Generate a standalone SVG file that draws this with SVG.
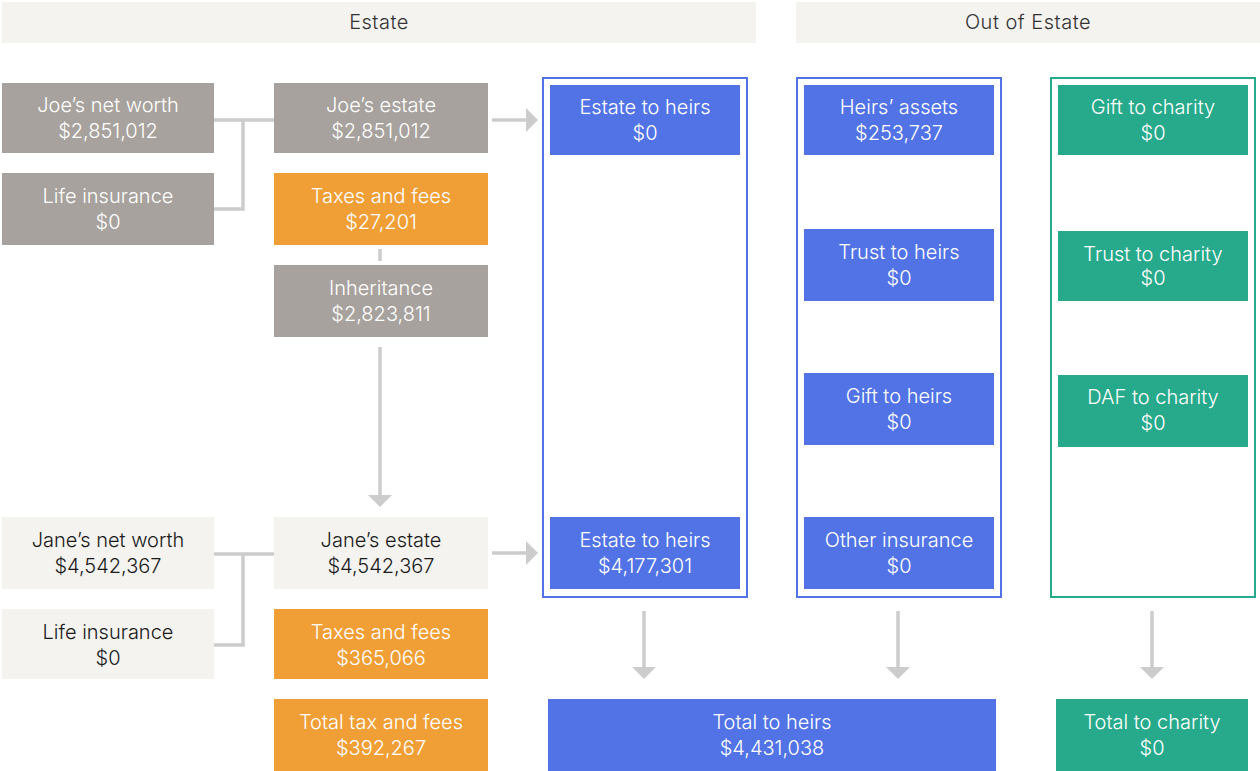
<svg xmlns="http://www.w3.org/2000/svg" width="1260" height="771" viewBox="0 0 1260 771">
<defs>
<style>
.hdr{fill:#f4f3f0}
.ht{font-family:Inter,"Noto Sans",sans-serif;font-size:20px;font-weight:300;letter-spacing:0.5px;fill:#333;text-anchor:middle}
.t{font-family:Inter,"Noto Sans",sans-serif;font-size:20px;font-weight:300;text-anchor:middle;fill:#fff}
.d{fill:#1a1a1a}
.gray{fill:#a7a29d}
.light{fill:#f4f3f0}
.orange{fill:#f09e36}
.blue{fill:#5173e6}
.green{fill:#27a98b}
.ob{fill:none;stroke:#5173e6;stroke-width:2}
.og{fill:none;stroke:#27a98b;stroke-width:2}
.c{fill:none;stroke:#cccccc;stroke-width:3.5}
</style>
<marker id="ah" markerUnits="userSpaceOnUse" markerWidth="12" markerHeight="24" refX="0" refY="12" orient="auto" viewBox="0 0 12 24">
<path d="M0,0 L12,12 L0,24 Z" fill="#cccccc"/>
</marker>
</defs>
<rect width="1260" height="771" fill="#fff"/>
<g id="header-estate"><rect class="hdr" x="2" y="2" width="754" height="41"/><text class="ht" x="379" y="29">Estate</text></g>
<g id="header-out"><rect class="hdr" x="796" y="2" width="464" height="41"/><text class="ht" x="1028" y="29">Out of Estate</text></g>
<g id="col-estate-heirs"><rect class="ob" x="543" y="78" width="204" height="519"/></g>
<g id="col-out-heirs"><rect class="ob" x="797" y="78" width="204" height="519"/></g>
<g id="col-charity"><rect class="og" x="1051" y="78" width="204" height="519"/></g>
<g id="connectors">
<path class="c" d="M214,120 H274 M243,120 V209 H214"/>
<path class="c" d="M492,120 H526" marker-end="url(#ah)"/>
<path class="c" d="M380,249 V261"/>
<path class="c" d="M380,347 V495" marker-end="url(#ah)"/>
<path class="c" d="M214,554 H274 M243,554 V645 H214"/>
<path class="c" d="M492,553 H526" marker-end="url(#ah)"/>
<path class="c" d="M644,611 V667" marker-end="url(#ah)"/>
<path class="c" d="M898,611 V667" marker-end="url(#ah)"/>
<path class="c" d="M1152,611 V667" marker-end="url(#ah)"/>
</g>
<g id="joe-net-worth"><rect class="gray" x="2" y="83" width="212" height="70"/><text class="t" x="108" y="112">Joe’s net worth</text><text class="t" x="108" y="138">$2,851,012</text></g>
<g id="joe-life-insurance"><rect class="gray" x="2" y="173" width="212" height="72"/><text class="t" x="108" y="203">Life insurance</text><text class="t" x="108" y="229">$0</text></g>
<g id="joe-estate"><rect class="gray" x="274" y="83" width="214" height="70"/><text class="t" x="381" y="112">Joe’s estate</text><text class="t" x="381" y="138">$2,851,012</text></g>
<g id="joe-taxes"><rect class="orange" x="274" y="173" width="214" height="72"/><text class="t" x="381" y="203">Taxes and fees</text><text class="t" x="381" y="229">$27,201</text></g>
<g id="inheritance"><rect class="gray" x="274" y="265" width="214" height="72"/><text class="t" x="381" y="295">Inheritance</text><text class="t" x="381" y="321">$2,823,811</text></g>
<g id="jane-net-worth"><rect class="light" x="2" y="517" width="212" height="72"/><text class="t d" x="108" y="547">Jane’s net worth</text><text class="t d" x="108" y="573">$4,542,367</text></g>
<g id="jane-life-insurance"><rect class="light" x="2" y="609" width="212" height="70"/><text class="t d" x="108" y="639">Life insurance</text><text class="t d" x="108" y="665">$0</text></g>
<g id="jane-estate"><rect class="light" x="274" y="517" width="214" height="72"/><text class="t d" x="381" y="547">Jane’s estate</text><text class="t d" x="381" y="573">$4,542,367</text></g>
<g id="jane-taxes"><rect class="orange" x="274" y="609" width="214" height="70"/><text class="t" x="381" y="639">Taxes and fees</text><text class="t" x="381" y="665">$365,066</text></g>
<g id="total-tax"><rect class="orange" x="274" y="699" width="214" height="72"/><text class="t" x="381" y="729">Total tax and fees</text><text class="t" x="381" y="755">$392,267</text></g>
<g id="estate-heirs-1"><rect class="blue" x="550" y="85" width="190" height="70"/><text class="t" x="645" y="114">Estate to heirs</text><text class="t" x="645" y="140">$0</text></g>
<g id="estate-heirs-2"><rect class="blue" x="550" y="517" width="190" height="72"/><text class="t" x="645" y="547">Estate to heirs</text><text class="t" x="645" y="573">$4,177,301</text></g>
<g id="heirs-assets"><rect class="blue" x="804" y="85" width="190" height="70"/><text class="t" x="899" y="114">Heirs’ assets</text><text class="t" x="899" y="140">$253,737</text></g>
<g id="trust-heirs"><rect class="blue" x="804" y="229" width="190" height="72"/><text class="t" x="899" y="259">Trust to heirs</text><text class="t" x="899" y="285">$0</text></g>
<g id="gift-heirs"><rect class="blue" x="804" y="373" width="190" height="72"/><text class="t" x="899" y="403">Gift to heirs</text><text class="t" x="899" y="429">$0</text></g>
<g id="other-insurance"><rect class="blue" x="804" y="517" width="190" height="72"/><text class="t" x="899" y="547">Other insurance</text><text class="t" x="899" y="573">$0</text></g>
<g id="gift-charity"><rect class="green" x="1058" y="85" width="190" height="70"/><text class="t" x="1153" y="114">Gift to charity</text><text class="t" x="1153" y="140">$0</text></g>
<g id="trust-charity"><rect class="green" x="1058" y="231" width="190" height="70"/><text class="t" x="1153" y="261">Trust to charity</text><text class="t" x="1153" y="285">$0</text></g>
<g id="daf-charity"><rect class="green" x="1058" y="375" width="190" height="72"/><text class="t" x="1153" y="404">DAF to charity</text><text class="t" x="1153" y="430">$0</text></g>
<g id="total-heirs"><rect class="blue" x="548" y="699" width="448" height="72"/><text class="t" x="772" y="729">Total to heirs</text><text class="t" x="772" y="755">$4,431,038</text></g>
<g id="total-charity"><rect class="green" x="1056" y="699" width="192" height="72"/><text class="t" x="1152" y="729">Total to charity</text><text class="t" x="1152" y="755">$0</text></g>
</svg>
